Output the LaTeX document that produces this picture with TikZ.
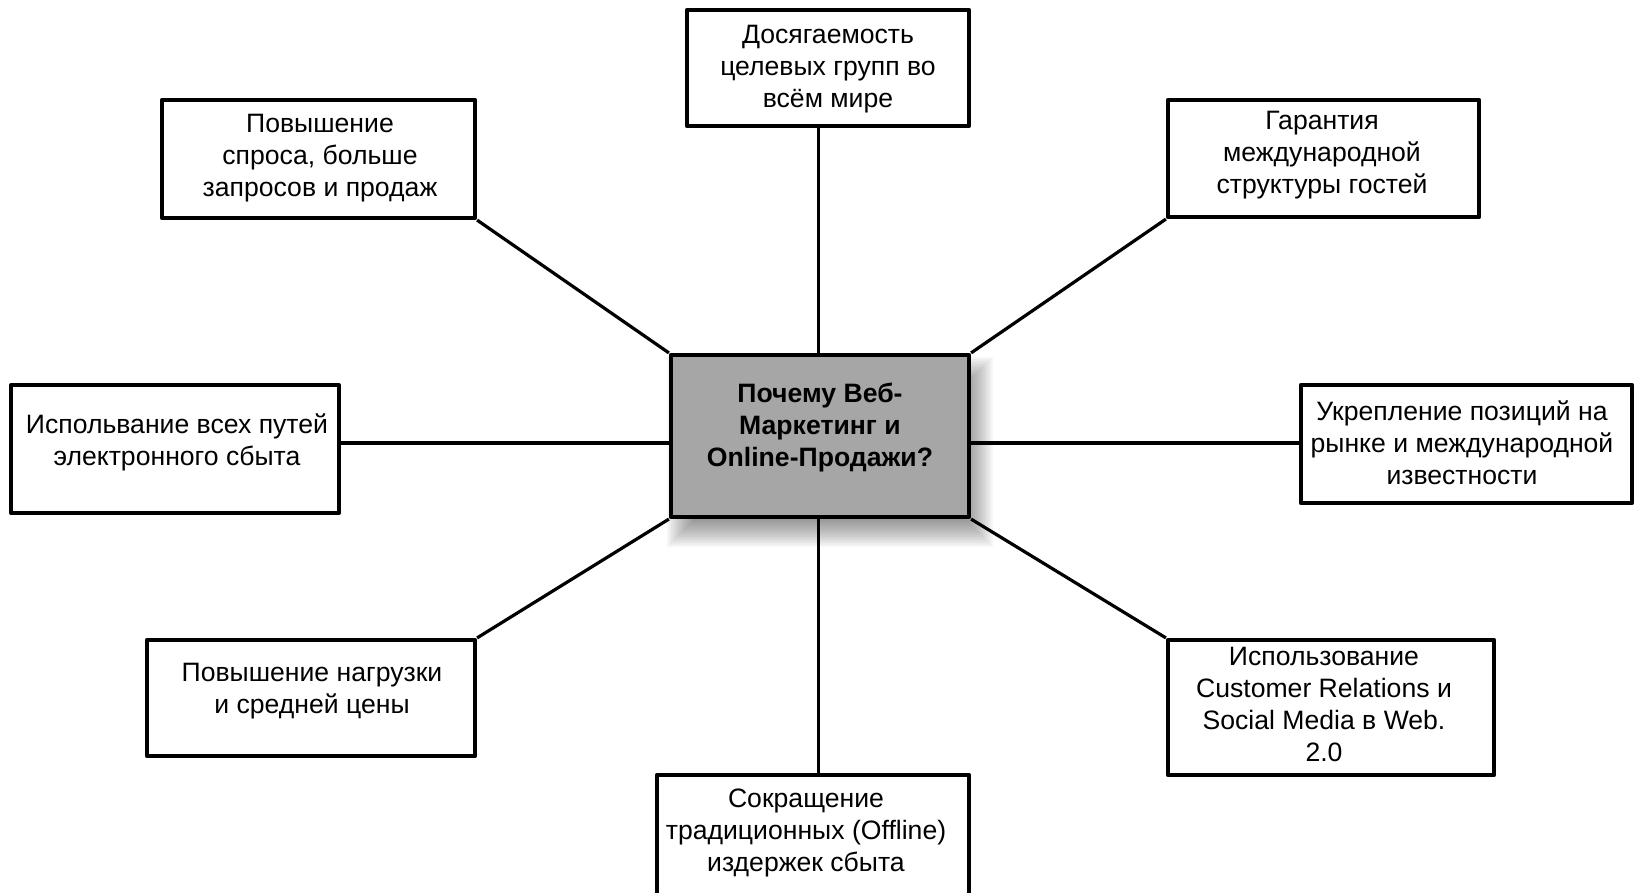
\documentclass[tikz,border=0pt]{standalone}
\usepackage{fontspec}
\setmainfont{Liberation Sans}
\definecolor{hubgray}{HTML}{A6A6A6}
\begin{document}
\begin{tikzpicture}[x=0.5pt,y=-0.5pt,
  box/.style={draw=black, line width=2.1pt, fill=white, inner sep=0pt, line join=round},
  txt/.style={align=center, inner sep=0pt, font=\fontsize{13.3}{16}\selectfont},
  link/.style={draw=black, line width=1.6pt}]
\useasboundingbox (0,0) rectangle (1635,893);
% soft shadow of the hub
\foreach \s in {-14,-12,...,14}
  \fill[black, opacity=0.035] (820+10-149-\s,436+16-81-\s) rectangle (820+10+149+\s,436+16+81+\s);
% boxes
\node[box, fill=hubgray, minimum width=149pt, minimum height=81pt] (ctr) at (820,436) {};
\node[box, minimum width=141pt, minimum height=58pt] (top) at (828,68) {};
\node[box, minimum width=156.5pt, minimum height=59pt] (ul) at (318.5,159) {};
\node[box, minimum width=155.5pt, minimum height=58.5pt] (ur) at (1323.5,158.5) {};
\node[box, minimum width=163.75pt, minimum height=64pt] (lft) at (175,449) {};
\node[box, minimum width=165.5pt, minimum height=59pt] (rgt) at (1466.5,444) {};
\node[box, minimum width=164pt, minimum height=58pt] (ll) at (311,698) {};
\node[box, minimum width=163pt, minimum height=67.5pt] (lr) at (1331,707.5) {};
\node[box, minimum width=156pt, minimum height=70pt] (bot) at (813,845) {};
% connectors
\coordinate (vx) at (818.5,0);
\coordinate (hy) at (0,443);
\draw[link] (ctr.north -| vx) -- (top.south -| vx);
\draw[link] (ctr.south -| vx) -- (bot.north -| vx);
\draw[link] (ctr.west |- hy) -- (lft.east |- hy);
\draw[link] (ctr.east |- hy) -- (rgt.west |- hy);
\draw[link] (ctr.north west) -- (ul.south east);
\draw[link] (ctr.north east) -- (ur.south west);
\draw[link] (ctr.south west) -- (ll.north east);
\draw[link] (ctr.south east) -- (lr.north west);
% texts
\node[txt, font=\fontsize{13.3}{16}\selectfont\bfseries] (ctrt) at (820,428) {Почему Веб-\\Маркетинг и\\Online-Продажи?};
\node[txt] (topt) at (828,69) {Досягаемость\\целевых групп во\\всём мире};
\node[txt] (ult) at (320,158.5) {Повышение\\спроса, больше\\запросов и продаж};
\node[txt] (urt) at (1322,155.5) {Гарантия\\международной\\структуры гостей};
\node[txt] (lftt) at (177,442) {Испольвание всех путей\\электронного сбыта};
\node[txt] (rgtt) at (1462,443) {Укрепление позиций на\\рынке и международной\\известности};
\node[txt] (llt) at (312,691) {Повышение нагрузки\\и средней цены};
\node[txt] (lrt) at (1324,704) {Использование\\Customer Relations и\\Social Media в Web.\\2.0};
\node[txt] (bott) at (806,833) {Сокращение\\традиционных (Offline)\\издержек сбыта};
\end{tikzpicture}
\end{document}
